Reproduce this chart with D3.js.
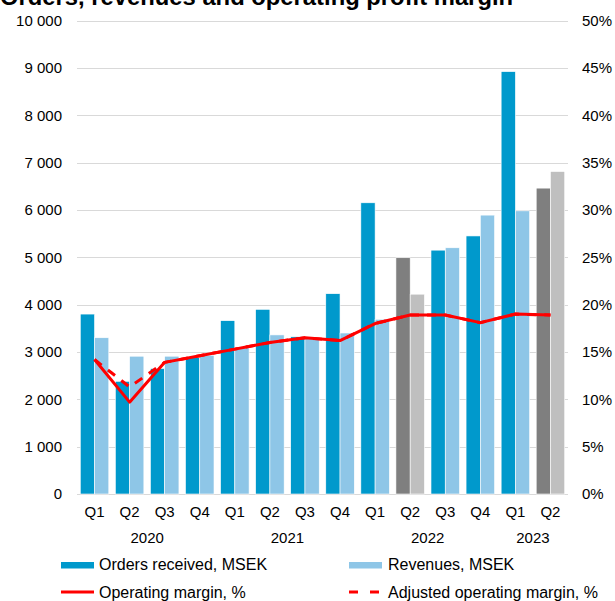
<!DOCTYPE html>
<html>
<head>
<meta charset="utf-8">
<script src="https://cdn.jsdelivr.net/npm/d3@7"></script>
<style>
  body { margin: 0; background: #fff; }
  svg text { font-family: "Liberation Sans", Arial, sans-serif; fill: #000; }
</style>
</head>
<body>
<div id="chart"></div>
<script>
var quarters = ["Q1", "Q2", "Q3", "Q4", "Q1", "Q2", "Q3", "Q4", "Q1", "Q2", "Q3", "Q4", "Q1", "Q2"];
var years = ["2020", "2020", "2020", "2020", "2021", "2021", "2021", "2021", "2022", "2022", "2022", "2022", "2023", "2023"];
var orders = [3800, 2380, 2650, 2880, 3660, 3900, 3320, 4230, 6150, 4990, 5150, 5450, 8920, 6460];
var revenues = [3300, 2910, 2910, 2930, 3090, 3360, 3300, 3400, 3690, 4220, 5200, 5890, 5980, 6810];
var margin = [14.2, 9.7, 13.9, 14.6, 15.3, 16.0, 16.5, 16.2, 18.0, 18.9, 18.9, 18.1, 19.0, 18.9];
var adjMargin = [14.2, 11.3, 13.9, 14.6, 15.3, 16.0, 16.5, 16.2, 18.0, 18.9, 18.9, 18.1, 19.0, 18.9];
var greyed = [false, false, false, false, false, false, false, false, false, true, false, false, false, true];
var leftTicks = [0, 1000, 2000, 3000, 4000, 5000, 6000, 7000, 8000, 9000, 10000];
var rightTicks = [0, 5, 10, 15, 20, 25, 30, 35, 40, 45, 50];

var W = 615, H = 601;
var plot = { left: 77, right: 568, top: 20.5, bottom: 494 };

var svg = d3.select("#chart").append("svg")
    .attr("width", W)
    .attr("height", H);

// title, cut off at the top like the original
svg.append("text")
    .attr("x", 0)
    .attr("y", 5)
    .style("font-weight", "bold")
    .style("font-size", "23.8px")
    .text("Orders, revenues and operating profit margin");

var idx = d3.range(quarters.length);

var x = d3.scaleBand()
    .domain(idx)
    .range([plot.left, plot.right]);

var x1 = d3.scaleBand()
    .domain(["orders", "revenues"])
    .range([0, x.bandwidth()])
    .paddingOuter(0.23)
    .paddingInner(0);

var y = d3.scaleLinear().domain([0, 10000]).range([plot.bottom, plot.top]);
var y2 = d3.scaleLinear().domain([0, 50]).range([plot.bottom, plot.top]);

var fmt = d3.formatLocale({ decimal: ",", thousands: " ", grouping: [3], currency: ["", ""] }).format(",d");

// gridlines
svg.append("g")
    .selectAll("line")
    .data(leftTicks)
    .join("line")
    .attr("x1", plot.left)
    .attr("x2", plot.right)
    .attr("y1", function(d) { return Math.round(y(d)) + 0.5; })
    .attr("y2", function(d) { return Math.round(y(d)) + 0.5; })
    .attr("stroke", "#d9d9d9")
    .attr("stroke-width", 1);

// left axis
var yAxis = svg.append("g")
    .attr("transform", "translate(" + (plot.left - 15) + ",0)")
    .call(d3.axisLeft(y).tickValues(leftTicks).tickFormat(fmt).tickSize(0).tickPadding(0));
yAxis.select(".domain").remove();
yAxis.selectAll("text")
    .style("font-size", "15px")
    .style("font-family", "Liberation Sans, Arial, sans-serif")
    .attr("fill", "#000");

// right axis
var y2Axis = svg.append("g")
    .attr("transform", "translate(" + (plot.right + 14) + ",0)")
    .call(d3.axisRight(y2).tickValues(rightTicks).tickFormat(function(d) { return d + "%"; }).tickSize(0).tickPadding(0));
y2Axis.select(".domain").remove();
y2Axis.selectAll("text")
    .style("font-size", "15px")
    .style("font-family", "Liberation Sans, Arial, sans-serif")
    .attr("fill", "#000");

// bars
var bars = svg.append("g");
bars.selectAll("rect.orders")
    .data(idx)
    .join("rect")
    .attr("class", "orders")
    .attr("x", function(i) { return x(i) + x1("orders"); })
    .attr("width", x1.bandwidth())
    .attr("y", function(i) { return y(orders[i]); })
    .attr("height", function(i) { return y(0) - y(orders[i]); })
    .attr("fill", function(i) { return greyed[i] ? "#7f7f7f" : "#0099cc"; })
    .attr("stroke", "#fff")
    .attr("stroke-width", 0.6);

bars.selectAll("rect.revenues")
    .data(idx)
    .join("rect")
    .attr("class", "revenues")
    .attr("x", function(i) { return x(i) + x1("revenues"); })
    .attr("width", x1.bandwidth())
    .attr("y", function(i) { return y(revenues[i]); })
    .attr("height", function(i) { return y(0) - y(revenues[i]); })
    .attr("fill", function(i) { return greyed[i] ? "#bfbfbf" : "#8ec6e7"; })
    .attr("stroke", "#fff")
    .attr("stroke-width", 0.6);

// margin lines
var cx = function(i) { return x(i) + x.bandwidth() / 2; };

var adjLine = d3.line()
    .x(function(i) { return cx(i); })
    .y(function(i) { return y2(adjMargin[i]); });

var opLine = d3.line()
    .x(function(i) { return cx(i); })
    .y(function(i) { return y2(margin[i]); });

svg.append("path")
    .datum(idx)
    .attr("d", adjLine)
    .attr("fill", "none")
    .attr("stroke", "#ff0000")
    .attr("stroke-width", 3)
    .attr("stroke-dasharray", "9,8");

svg.append("path")
    .datum(idx)
    .attr("d", opLine)
    .attr("fill", "none")
    .attr("stroke", "#ff0000")
    .attr("stroke-width", 3)
    .attr("stroke-linejoin", "round");

// category labels
svg.append("g")
    .selectAll("text")
    .data(idx)
    .join("text")
    .attr("x", function(i) { return cx(i); })
    .attr("y", 517)
    .attr("text-anchor", "middle")
    .style("font-size", "15px")
    .text(function(i) { return quarters[i]; });

// year labels centred under their quarters
var yearGroups = d3.groups(idx, function(i) { return years[i]; });
svg.append("g")
    .selectAll("text")
    .data(yearGroups)
    .join("text")
    .attr("x", function(g) {
        var first = g[1][0], last = g[1][g[1].length - 1];
        return (x(first) + x(last) + x.bandwidth()) / 2;
    })
    .attr("y", 543)
    .attr("text-anchor", "middle")
    .style("font-size", "15px")
    .text(function(g) { return g[0]; });

// legend
var legend = svg.append("g");
legend.append("rect")
    .attr("x", 61).attr("y", 562).attr("width", 33).attr("height", 6.5)
    .attr("fill", "#0099cc");
legend.append("text")
    .attr("x", 99).attr("y", 570)
    .style("font-size", "16px")
    .text("Orders received, MSEK");

legend.append("rect")
    .attr("x", 349).attr("y", 562).attr("width", 33).attr("height", 6.5)
    .attr("fill", "#8ec6e7");
legend.append("text")
    .attr("x", 388).attr("y", 570)
    .style("font-size", "16px")
    .text("Revenues, MSEK");

legend.append("line")
    .attr("x1", 61).attr("x2", 94).attr("y1", 592).attr("y2", 592)
    .attr("stroke", "#ff0000").attr("stroke-width", 3);
legend.append("text")
    .attr("x", 99).attr("y", 598)
    .style("font-size", "16px")
    .text("Operating margin, %");

legend.append("line")
    .attr("x1", 349).attr("x2", 382).attr("y1", 592).attr("y2", 592)
    .attr("stroke", "#ff0000").attr("stroke-width", 3)
    .attr("stroke-dasharray", "9,12");
legend.append("text")
    .attr("x", 388).attr("y", 598)
    .style("font-size", "16px")
    .text("Adjusted operating margin, %");
</script>
</body>
</html>
